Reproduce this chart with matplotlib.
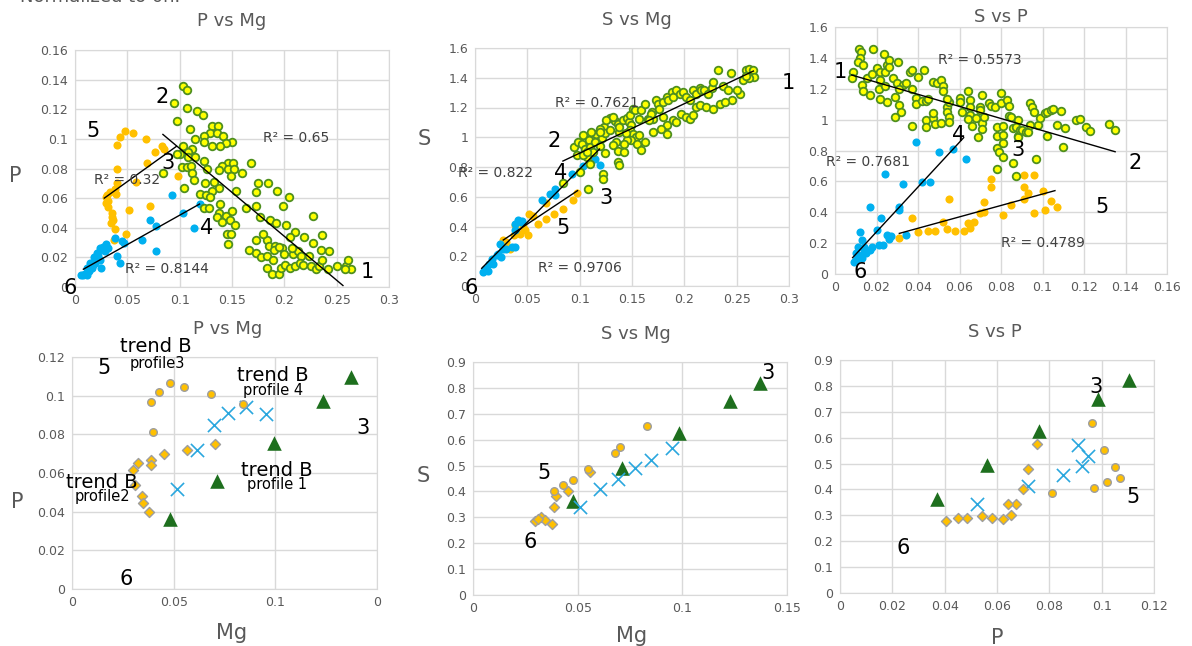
import matplotlib
matplotlib.use("Agg")
import matplotlib.pyplot as plt
import numpy as np

# ---------------- DATA ----------------
# Top-left: P vs Mg  (pairs: Mg, P)
pvm_g2 = [(0.103,0.136),(0.107,0.133),(0.095,0.124),(0.107,0.121),(0.117,0.119),(0.122,0.116),(0.097,0.112),
 (0.110,0.107),(0.131,0.109),(0.137,0.109),(0.129,0.104),(0.136,0.104),(0.141,0.102),(0.123,0.102),(0.115,0.100),
 (0.150,0.098),(0.144,0.097),(0.123,0.098),(0.139,0.095),(0.131,0.095),(0.103,0.095),(0.112,0.093),(0.108,0.091),
 (0.100,0.090),(0.097,0.090),(0.108,0.088),(0.115,0.088),(0.123,0.085),(0.102,0.081),(0.107,0.081),(0.111,0.082),
 (0.146,0.084),(0.151,0.084),(0.140,0.082),(0.146,0.080),(0.152,0.080),(0.126,0.080),(0.168,0.084),(0.160,0.077),
 (0.138,0.079),(0.149,0.075),(0.112,0.077),(0.114,0.072),(0.084,0.077),(0.104,0.067),(0.124,0.070),(0.133,0.071),
 (0.138,0.067),(0.131,0.065),(0.154,0.065),(0.175,0.070),(0.184,0.070),(0.173,0.064),(0.193,0.065),(0.204,0.061),
 (0.119,0.063),(0.125,0.062),(0.129,0.061),(0.123,0.053),(0.128,0.053),(0.139,0.056),(0.163,0.053),(0.173,0.055),
 (0.199,0.055),(0.227,0.048),(0.138,0.050),(0.144,0.048),(0.150,0.051),(0.136,0.047),(0.140,0.044),(0.148,0.045),
 (0.145,0.036),(0.149,0.036),(0.153,0.042),(0.146,0.029),(0.177,0.047),(0.186,0.045),(0.192,0.043),(0.202,0.042),
 (0.210,0.037),(0.166,0.025),(0.173,0.032),(0.183,0.032),(0.185,0.028),(0.191,0.028),(0.190,0.025),(0.198,0.026),
 (0.173,0.023),(0.178,0.020),(0.183,0.021),(0.189,0.018),(0.183,0.013),(0.188,0.009),(0.195,0.009),(0.197,0.013),
 (0.201,0.015),(0.208,0.022),(0.213,0.024),(0.216,0.021),(0.224,0.021),(0.235,0.025),(0.243,0.024),(0.236,0.035),
 (0.227,0.030),(0.205,0.013),(0.210,0.014),(0.215,0.016),(0.218,0.015),(0.225,0.014),(0.230,0.012),(0.233,0.014),
 (0.242,0.012),(0.250,0.014),(0.259,0.014),(0.261,0.018),(0.264,0.012),(0.258,0.012),(0.236,0.018),(0.200,0.022),
 (0.195,0.027),(0.207,0.026),(0.180,0.036),(0.205,0.034),(0.219,0.034)]
pvm_o5 = [(0.048,0.105),(0.055,0.104),(0.043,0.101),(0.040,0.096),(0.068,0.100),(0.083,0.095),(0.085,0.093),
 (0.076,0.091),(0.040,0.080),(0.069,0.084),(0.058,0.071),(0.040,0.070),(0.038,0.066),(0.033,0.064),(0.031,0.062),
 (0.039,0.063),(0.030,0.061),(0.030,0.057),(0.032,0.054),(0.035,0.047),(0.036,0.045),(0.038,0.039),(0.049,0.036),
 (0.052,0.052),(0.072,0.055),(0.098,0.075),(0.037,0.032),(0.035,0.050),(0.034,0.043),(0.032,0.058)]
pvm_b4 = [(0.093,0.062),(0.103,0.050),(0.114,0.040),(0.119,0.056),(0.072,0.045),(0.077,0.041),(0.077,0.024),
 (0.064,0.032),(0.038,0.033),(0.045,0.031),(0.047,0.030),(0.040,0.021),(0.043,0.016),(0.030,0.029),(0.027,0.027),
 (0.024,0.026),(0.029,0.024),(0.021,0.023),(0.018,0.020),(0.024,0.018),(0.014,0.016),(0.017,0.015),(0.011,0.013),
 (0.010,0.009),(0.013,0.011),(0.008,0.008),(0.006,0.008),(0.011,0.008),(0.019,0.016),(0.022,0.021),(0.025,0.013),
 (0.016,0.013),(0.027,0.025),(0.032,0.026)]
pvm_trend_g = [(0.084,0.103),(0.256,0.001)]
pvm_trend_o = [(0.028,0.060),(0.097,0.095)]
pvm_trend_b = [(0.008,0.012),(0.119,0.056)]

# Top-middle: S vs Mg (pairs: Mg, S)
svm_g = [(0.0945,0.934),(0.097,0.878),(0.098,0.968),(0.103,1.013),(0.102,0.952),(0.105,0.923),(0.109,0.979),
 (0.110,0.934),(0.115,0.968),(0.116,1.020),(0.121,0.997),(0.123,1.069),(0.124,1.029),(0.129,1.051),(0.129,1.129),
 (0.134,1.109),(0.137,1.086),(0.138,1.035),(0.141,1.113),(0.145,1.131),(0.147,1.102),(0.149,1.080),(0.148,1.046),
 (0.151,1.024),(0.154,1.001),(0.149,0.983),(0.155,0.956),(0.145,0.983),(0.142,0.952),(0.135,0.968),(0.132,0.950),
 (0.137,0.907),(0.142,0.900),(0.148,1.147),(0.151,1.192),(0.153,1.180),(0.159,1.180),(0.162,1.225),(0.165,1.124),
 (0.169,1.169),(0.173,1.248),(0.175,1.225),(0.176,1.192),(0.180,1.236),(0.183,1.270),(0.184,1.252),(0.188,1.304),
 (0.189,1.270),(0.192,1.315),(0.196,1.288),(0.199,1.304),(0.202,1.270),(0.205,1.248),(0.208,1.319),(0.211,1.292),
 (0.215,1.333),(0.216,1.315),(0.219,1.319),(0.223,1.292),(0.226,1.333),(0.227,1.371),(0.232,1.449),(0.237,1.342),
 (0.242,1.315),(0.245,1.431),(0.246,1.248),(0.253,1.292),(0.256,1.382),(0.259,1.454),(0.262,1.460),(0.266,1.449),
 (0.267,1.404),(0.262,1.400),(0.259,1.413),(0.250,1.315),(0.170,1.124),(0.180,1.136),(0.183,1.080),(0.189,1.113),
 (0.192,1.102),(0.197,1.158),(0.202,1.136),(0.205,1.124),(0.208,1.147),(0.211,1.203),(0.215,1.214),(0.221,1.203),
 (0.227,1.192),(0.234,1.225),(0.239,1.236),(0.183,1.024),(0.178,1.057),(0.170,1.035),(0.159,0.912),(0.168,1.158),
 (0.157,1.124),(0.125,1.113),(0.119,1.057),(0.111,1.035),(0.119,0.941),(0.113,0.900),(0.107,0.867),(0.137,0.833),
 (0.138,0.811),(0.122,0.755),(0.122,0.721),(0.108,0.650),(0.100,0.766),(0.084,0.692),(0.110,0.822),(0.124,0.894),
 (0.103,0.883),(0.107,0.900),(0.119,1.035),(0.132,1.136),(0.138,1.069),(0.144,1.028),(0.157,1.012),(0.162,0.968),
 (0.166,1.113)]
svm_b = [(0.115,0.856),(0.119,0.811),(0.103,0.807),(0.093,0.755),(0.076,0.654),(0.072,0.620),(0.064,0.576),
 (0.076,0.609),(0.041,0.441),(0.044,0.430),(0.038,0.419),(0.038,0.374),(0.024,0.284),(0.027,0.251),(0.035,0.262),
 (0.038,0.262),(0.021,0.206),(0.016,0.184),(0.013,0.150),(0.010,0.116),(0.008,0.094),(0.012,0.101),(0.017,0.150),
 (0.022,0.217),(0.025,0.195),(0.030,0.250),(0.045,0.440)]
svm_o = [(0.097,0.627),(0.094,0.576),(0.084,0.520),(0.075,0.486),(0.068,0.452),(0.060,0.414),(0.068,0.558),
 (0.052,0.486),(0.051,0.340),(0.048,0.374),(0.038,0.408),(0.033,0.251),(0.030,0.296),(0.027,0.307),(0.037,0.340),
 (0.046,0.396),(0.043,0.352),(0.055,0.470)]
svm_trend_g = [(0.084,0.840),(0.266,1.445)]
svm_trend_b = [(0.0064,0.119),(0.119,0.921)]
svm_trend_o = [(0.027,0.309),(0.098,0.641)]

# Top-right: S vs P (pairs: P, S)
svp_g = [(0.0117,1.455),(0.0124,1.436),(0.012,1.397),(0.011,1.375),(0.0137,1.354),(0.0185,1.455),(0.0088,1.31),
 (0.008,1.267),(0.0128,1.224),(0.0137,1.187),(0.0169,1.159),(0.0153,1.267),(0.0177,1.295),(0.020,1.332),(0.0217,1.31),
 (0.024,1.31),(0.0252,1.354),(0.0262,1.386),(0.0234,1.425),(0.026,1.343),(0.0217,1.256),(0.021,1.196),(0.024,1.218),
 (0.0252,1.116),(0.0217,1.134),(0.0305,1.375),(0.0281,1.267),(0.030,1.235),(0.033,1.224),(0.034,1.235),(0.031,1.196),
 (0.029,1.149),(0.031,1.095),(0.032,1.051),(0.029,1.019),(0.036,1.310),(0.037,1.321),(0.040,1.278),(0.043,1.321),
 (0.037,1.196),(0.039,1.138),(0.039,1.101),(0.042,1.121),(0.044,1.121),(0.045,1.131),(0.037,0.959),(0.044,0.998),
 (0.044,0.954),(0.047,1.008),(0.048,0.972),(0.047,1.246),(0.049,1.235),(0.051,1.256),(0.052,1.218),(0.052,1.187),
 (0.054,1.084),(0.054,1.051),(0.055,1.116),(0.054,1.131),(0.055,1.019),(0.051,0.976),(0.055,0.987),(0.060,1.138),
 (0.060,1.116),(0.061,1.051),(0.064,1.187),(0.065,1.127),(0.065,1.084),(0.065,1.03),(0.064,1.002),(0.066,0.959),
 (0.068,1.008),(0.070,1.08),(0.070,1.062),(0.071,1.159),(0.071,0.976),(0.071,0.937),(0.069,0.89),(0.072,1.019),
 (0.074,1.105),(0.075,1.088),(0.077,1.084),(0.078,0.954),(0.078,0.894),(0.078,0.814),(0.079,0.792),(0.078,0.678),
 (0.080,1.105),(0.080,1.170),(0.081,0.846),(0.081,0.760),(0.081,0.90),(0.081,0.959),(0.084,1.023),(0.083,1.127),
 (0.084,1.088),(0.085,1.019),(0.086,0.944),(0.088,0.998),(0.087,0.954),(0.088,0.894),(0.088,0.89),(0.086,0.721),
 (0.087,0.635),(0.089,0.933),(0.090,0.933),(0.092,0.922),(0.093,0.922),(0.094,1.105),(0.095,1.084),(0.094,0.965),
 (0.096,1.051),(0.097,0.743),(0.098,0.965),(0.099,1.008),(0.101,1.041),(0.102,1.051),(0.104,1.062),(0.102,0.894),
 (0.105,1.067),(0.110,0.825),(0.109,1.056),(0.107,0.965),(0.111,0.944),(0.116,0.998),(0.118,1.002),(0.121,0.954),
 (0.123,0.928),(0.132,0.969),(0.135,0.933),(0.047,1.041)]
svp_b = [(0.039,0.853),(0.050,0.792),(0.057,0.807),(0.063,0.743),(0.024,0.646),(0.033,0.581),(0.042,0.598),
 (0.046,0.598),(0.031,0.436),(0.031,0.415),(0.017,0.432),(0.022,0.361),(0.020,0.285),(0.012,0.274),(0.013,0.220),
 (0.021,0.188),(0.023,0.188),(0.025,0.253),(0.027,0.246),(0.026,0.225),(0.034,0.253),(0.018,0.177),(0.017,0.155),
 (0.015,0.134),(0.014,0.145),(0.011,0.123),(0.010,0.091),(0.009,0.080),(0.010,0.134),(0.013,0.101),(0.011,0.177),
 (0.014,0.177)]
svp_o = [(0.075,0.615),(0.075,0.561),(0.091,0.641),(0.096,0.641),(0.072,0.468),(0.091,0.561),(0.093,0.522),
 (0.091,0.484),(0.100,0.540),(0.104,0.475),(0.101,0.415),(0.107,0.436),(0.096,0.393),(0.081,0.382),(0.085,0.447),
 (0.072,0.399),(0.070,0.393),(0.055,0.484),(0.052,0.339),(0.067,0.339),(0.064,0.332),(0.065,0.296),(0.062,0.281),
 (0.058,0.281),(0.054,0.289),(0.048,0.281),(0.045,0.281),(0.040,0.270),(0.037,0.361),(0.031,0.235)]
svp_trend_g = [(0.008,1.289),(0.135,0.792)]
svp_trend_b = [(0.0085,0.106),(0.062,0.883)]
svp_trend_o = [(0.031,0.263),(0.106,0.540)]

# Bottom-left: P vs Mg profiles (pairs: Mg, P)
b_pvm_circ = [(0.039,0.0966),(0.043,0.102),(0.048,0.1066),(0.055,0.1045),(0.0686,0.1007),(0.0839,0.0959),(0.040,0.081)]
b_pvm_diam = [(0.030,0.0615),(0.0325,0.065),(0.039,0.0667),(0.039,0.064),(0.045,0.0698),(0.0564,0.0719),
 (0.0702,0.0748),(0.031,0.0538),(0.0345,0.0481),(0.0347,0.0447),(0.038,0.0399)]
b_pvm_x = [(0.0515,0.0516),(0.0613,0.0719),(0.0696,0.0847),(0.0769,0.0911),(0.0857,0.0939),(0.0954,0.0904)]
b_pvm_tri = [(0.0483,0.0363),(0.0711,0.0559),(0.0992,0.0753),(0.1236,0.0971),(0.1374,0.1097)]

# Bottom-middle: S vs Mg (pairs: Mg, S)
b_svm_circ = [(0.0831,0.653),(0.070,0.572),(0.068,0.549),(0.0549,0.485),(0.0478,0.444),(0.043,0.424),(0.0387,0.401)]
b_svm_diam = [(0.056,0.476),(0.0454,0.401),(0.0398,0.383),(0.0385,0.341),(0.0295,0.285),(0.0326,0.300),
 (0.0345,0.289),(0.0379,0.276),(0.031,0.293)]
b_svm_x = [(0.051,0.341),(0.0605,0.411),(0.0693,0.450),(0.0772,0.489),(0.0852,0.523),(0.0952,0.566)]
b_svm_tri = [(0.0478,0.364),(0.0713,0.489),(0.0984,0.624),(0.123,0.748),(0.137,0.819)]

# Bottom-right: S vs P (pairs: P, S)
b_svp_circ = [(0.0962,0.655),(0.1009,0.552),(0.1051,0.487),(0.107,0.446),(0.1022,0.427),(0.0971,0.404),(0.0812,0.387)]
b_svp_diam = [(0.0754,0.575),(0.072,0.478),(0.070,0.402),(0.0673,0.343),(0.0641,0.343),(0.0654,0.303),
 (0.0622,0.285),(0.0582,0.290),(0.0541,0.298),(0.0484,0.290),(0.0451,0.290),(0.0404,0.278)]
b_svp_x = [(0.0522,0.343),(0.072,0.414),(0.0854,0.455),(0.0924,0.491),(0.0949,0.529),(0.0911,0.571)]
b_svp_tri = [(0.0372,0.362),(0.0563,0.494),(0.0761,0.627),(0.0985,0.749),(0.1105,0.823)]

# tick labels
ticks_mg03 = [0, 0.05, 0.1, 0.15, 0.2, 0.25, 0.3]
labels_mg03 = ["0", "0.05", "0.1", "0.15", "0.2", "0.25", "0.3"]
ticks_p016 = [0, 0.02, 0.04, 0.06, 0.08, 0.1, 0.12, 0.14, 0.16]
labels_p016 = ["0", "0.02", "0.04", "0.06", "0.08", "0.1", "0.12", "0.14", "0.16"]
ticks_s16 = [0, 0.2, 0.4, 0.6, 0.8, 1.0, 1.2, 1.4, 1.6]
labels_s16 = ["0", "0.2", "0.4", "0.6", "0.8", "1", "1.2", "1.4", "1.6"]
ticks_mg015 = [0, 0.05, 0.1, 0.15]
labels_mg015_a = ["0", "0.05", "0.1", "0"]
labels_mg015_b = ["0", "0.05", "0.1", "0.15"]
ticks_p012 = [0, 0.02, 0.04, 0.06, 0.08, 0.1, 0.12]
labels_p012 = ["0", "0.02", "0.04", "0.06", "0.08", "0.1", "0.12"]
ticks_s09 = [0, 0.1, 0.2, 0.3, 0.4, 0.5, 0.6, 0.7, 0.8, 0.9]
labels_s09 = ["0", "0.1", "0.2", "0.3", "0.4", "0.5", "0.6", "0.7", "0.8", "0.9"]

# ---------------- STYLE ----------------
W, H = 1192, 646
plt.rcParams['font.family'] = ['DejaVu Sans']
fig = plt.figure(figsize=(W/100, H/100), dpi=100)
GRID = '#d9d9d9'
TXT = '#595959'
YEL, GEDGE = '#ffff00', '#4e8f1f'
ORG, BLU = '#ffc000', '#00b0f0'

def fx(px): return px / W
def fy(py): return 1 - py / H

def make_ax(l, r, t, b, xl, yl, xt, xtl, yt, ytl):
    ax = fig.add_axes([fx(l), fy(b), (r - l) / W, (b - t) / H])
    ax.set_xlim(*xl); ax.set_ylim(*yl)
    ax.set_xticks(xt); ax.set_xticklabels(xtl)
    ax.set_yticks(yt); ax.set_yticklabels(ytl)
    ax.grid(True, color=GRID, lw=1)
    ax.set_axisbelow(True)
    for s in ax.spines.values():
        s.set_color(GRID)
    ax.tick_params(length=0, labelsize=9, labelcolor=TXT, pad=5)
    return ax

def xy(pairs):
    a = np.array(pairs)
    return a[:, 0], a[:, 1]

def trend(ax, pairs):
    x, y = xy(pairs)
    ax.plot(x, y, color='black', lw=1, zorder=5)

def txt(s, px, py, size=15, color='black', **kw):
    fig.text(fx(px), fy(py), s, fontsize=size, color=color, ha='center', va='center', **kw)

# ---- top-left
ax1 = make_ax(75, 389, 50, 287, (0, 0.3), (0, 0.16), ticks_mg03, labels_mg03, ticks_p016, labels_p016)
ax1.scatter(*xy(pvm_o5), s=34, color=ORG, lw=0, zorder=3)
ax1.scatter(*xy(pvm_b4), s=34, color=BLU, lw=0, zorder=3)
ax1.scatter(*xy(pvm_g2), s=30, facecolor=YEL, edgecolor=GEDGE, lw=1.3, zorder=4)
for tr in (pvm_trend_g, pvm_trend_o, pvm_trend_b):
    trend(ax1, tr)

# ---- top-middle
ax2 = make_ax(475, 789, 48, 286, (0, 0.3), (0, 1.6), ticks_mg03, labels_mg03, ticks_s16, labels_s16)
ax2.scatter(*xy(svm_o), s=34, color=ORG, lw=0, zorder=3)
ax2.scatter(*xy(svm_b), s=34, color=BLU, lw=0, zorder=3)
ax2.scatter(*xy(svm_g), s=30, facecolor=YEL, edgecolor=GEDGE, lw=1.3, zorder=4)
for tr in (svm_trend_g, svm_trend_b, svm_trend_o):
    trend(ax2, tr)

# ---- top-right
ax3 = make_ax(835, 1167, 27, 274, (0, 0.16), (0, 1.6), ticks_p016, labels_p016, ticks_s16, labels_s16)
ax3.scatter(*xy(svp_o), s=34, color=ORG, lw=0, zorder=3)
ax3.scatter(*xy(svp_b), s=34, color=BLU, lw=0, zorder=3)
ax3.scatter(*xy(svp_g), s=30, facecolor=YEL, edgecolor=GEDGE, lw=1.3, zorder=4)
for tr in (svp_trend_g, svp_trend_b, svp_trend_o):
    trend(ax3, tr)

# ---- bottom panels
def profiles(ax, circ, diam, xs, tri):
    ax.scatter(*xy(tri), s=110, marker='^', color='#1e6f1e', lw=0, zorder=3)
    ax.scatter(*xy(xs), s=90, marker='x', color='#2aa7de', lw=1.2, zorder=4)
    ax.scatter(*xy(diam), s=26, marker='D', facecolor=ORG, edgecolor='#9e9e9e', lw=1, zorder=5)
    ax.scatter(*xy(circ), s=30, marker='o', facecolor=ORG, edgecolor='#9e9e9e', lw=1, zorder=5)

ax4 = make_ax(72, 377, 357, 589, (0, 0.15), (0, 0.12), ticks_mg015, labels_mg015_a, ticks_p012, labels_p012)
profiles(ax4, b_pvm_circ, b_pvm_diam, b_pvm_x, b_pvm_tri)
ax5 = make_ax(473, 787, 362, 595, (0, 0.15), (0, 0.9), ticks_mg015, labels_mg015_b, ticks_s09, labels_s09)
profiles(ax5, b_svm_circ, b_svm_diam, b_svm_x, b_svm_tri)
ax6 = make_ax(840, 1154, 360, 593, (0, 0.12), (0, 0.9), ticks_p012, labels_p012, ticks_s09, labels_s09)
profiles(ax6, b_svp_circ, b_svp_diam, b_svp_x, b_svp_tri)

# ---------------- TEXT ----------------
txt("Normalized to 0h.", 100, -3, size=13, color=TXT)
# titles
txt("P vs Mg", 232, 21, 13, TXT)
txt("S vs Mg", 637, 20, 13, TXT)
txt("S vs P", 1001, 17, 13, TXT)
txt("P vs Mg", 228, 329, 13, TXT)
txt("S vs Mg", 636, 334, 13, TXT)
txt("S vs P", 995, 332, 13, TXT)
# axis labels
txt("P", 15, 176, 15, TXT)
txt("S", 424, 139, 15, TXT)
txt("P", 17, 502, 15, TXT)
txt("Mg", 232, 633, 15, TXT)
txt("S", 423, 476, 15, TXT)
txt("Mg", 632, 636, 15, TXT)
txt("P", 997, 638, 15, TXT)

R2C = '#404040'
# top-left annotations
for s, px, py in [("2", 162, 97), ("5", 93, 131), ("3", 168, 163), ("4", 207, 228), ("1", 367, 272), ("6", 70, 288)]:
    txt(s, px, py)
txt("R² = 0.65", 296, 138, 10, R2C)
txt("R² = 0.32", 127, 180, 10, R2C)
txt("R² = 0.8144", 167, 269, 10, R2C)
# top-middle
for s, px, py in [("1", 788, 83), ("2", 554, 141), ("4", 561, 173), ("3", 606, 198), ("5", 563, 228), ("6", 471, 288)]:
    txt(s, px, py)
txt("R² = 0.7621", 597, 103, 10, R2C)
txt("R² = 0.822", 495, 173, 10, R2C)
txt("R² = 0.9706", 580, 268, 10, R2C)
# top-right
for s, px, py in [("1", 840, 72), ("4", 959, 135), ("3", 1018, 150), ("2", 1135, 163), ("5", 1102, 207), ("6", 860, 272)]:
    txt(s, px, py)
txt("R² = 0.5573", 980, 60, 10, R2C)
txt("R² = 0.7681", 868, 162, 10, R2C)
txt("R² = 0.4789", 1043, 243, 10, R2C)
# bottom-left
txt("trend B", 156, 347, 14)
txt("profile3", 157, 363, 10.5)
txt("5", 104, 368)
txt("trend B", 273, 376, 14)
txt("profile 4", 273, 390, 10.5)
txt("3", 363, 428)
txt("trend B", 277, 471, 14)
txt("profile 1", 277, 485, 10.5)
txt("trend B", 102, 482, 14)
txt("profile2", 102, 496, 10.5)
txt("6", 126, 579)
# bottom-middle
txt("3", 768, 373)
txt("5", 544, 473)
txt("6", 530, 542)
# bottom-right
txt("3", 1096, 387)
txt("5", 1133, 497)
txt("6", 903, 548)

fig.savefig("out.png", dpi=100)
